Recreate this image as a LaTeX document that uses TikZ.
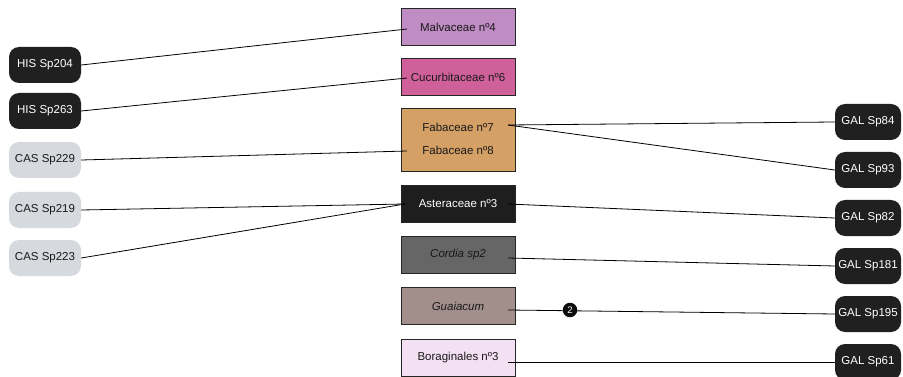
\documentclass[tikz,border=0pt]{standalone}
\usepackage{fontspec}
\setmainfont{Liberation Sans}
\definecolor{malva}{HTML}{C08CC4}
\definecolor{cucur}{HTML}{D0609A}
\definecolor{faba}{HTML}{D4A066}
\definecolor{aster}{HTML}{1E1E1E}
\definecolor{cordia}{HTML}{666666}
\definecolor{guaia}{HTML}{A28E8A}
\definecolor{borag}{HTML}{F3E0F3}
\definecolor{darkpill}{HTML}{202020}
\definecolor{lightpill}{HTML}{D6D9DD}
\begin{document}
\begin{tikzpicture}[x=1pt,y=-1pt,
  famsbox/.style={draw=black!85,line width=0.9pt,minimum width=114pt,minimum height=37pt,
    inner sep=0pt,font=\fontsize{11.5}{13}\selectfont,text=black!90},
  darkpill/.style={fill=darkpill,rounded corners=10pt,minimum height=36pt,inner sep=0pt,
    text=white,font=\fontsize{11.5}{13}\selectfont},
  lightpill/.style={fill=lightpill,rounded corners=10pt,minimum height=36pt,inner sep=0pt,
    text=black!90,font=\fontsize{11.5}{13}\selectfont},
  link/.style={draw=black,line width=0.8pt}]
\useasboundingbox (0,0) rectangle (903,377);

% central taxon boxes
\node[famsbox,fill=malva] (malv) at (458,27) {Malvaceae nº4};
\node[famsbox,fill=cucur] (cucu) at (458,77) {Cucurbitaceae nº6};
\node[famsbox,fill=faba,minimum height=63pt] (faba) at (458,140) {};
\node[font=\fontsize{11.5}{13}\selectfont,text=black!90] (fab7) at (458,127) {Fabaceae nº7};
\node[font=\fontsize{11.5}{13}\selectfont,text=black!90] (fab8) at (458,150) {Fabaceae nº8};
\node[famsbox,fill=aster,text=white] (aste) at (458,204) {Asteraceae nº3};
\node[famsbox,fill=cordia] (cord) at (458,255) {\itshape Cordia sp2};
\node[famsbox,fill=guaia] (guai) at (458,306) {\itshape Guaiacum};
\node[famsbox,fill=borag] (bora) at (458,358) {Boraginales nº3};

% left samples
\node[darkpill,minimum width=72pt] (h204) at (45,65) {HIS Sp204};
\node[darkpill,minimum width=72pt] (h263) at (45,111) {HIS Sp263};
\node[lightpill,minimum width=72pt] (c229) at (45,160) {CAS Sp229};
\node[lightpill,minimum width=72pt] (c219) at (45,210) {CAS Sp219};
\node[lightpill,minimum width=72pt] (c223) at (45,258) {CAS Sp223};

% right samples
\node[darkpill,minimum width=66pt] (g84) at (868,122) {GAL Sp84};
\node[darkpill,minimum width=66pt] (g93) at (868,170) {GAL Sp93};
\node[darkpill,minimum width=66pt] (g82) at (868,218) {GAL Sp82};
\node[darkpill,minimum width=66pt] (g181) at (868,266) {GAL Sp181};
\node[darkpill,minimum width=66pt] (g195) at (868,314) {GAL Sp195};
\node[darkpill,minimum width=66pt] (g61) at (868,362) {GAL Sp61};

% connector end points inside the boxes
\coordinate (malvL) at (407,29);
\coordinate (cucuL) at (407,78);
\coordinate (fab8L) at (407,151);
\coordinate (asteL) at (405,204);
\coordinate (fab7R) at (508,125);
\coordinate (asteR) at (508,204);
\coordinate (cordR) at (508,258);
\coordinate (guaiR) at (508,310);
\coordinate (boraR) at (508,362);

% connectors
\draw[link] (h204.east) -- (malvL);
\draw[link] (h263.east) -- (cucuL);
\draw[link] (c229.east) -- (fab8L);
\draw[link] (c219.east) -- (asteL);
\draw[link] (c223.east) -- (asteL);
\draw[link] (fab7R) -- (g84.west);
\draw[link] (fab7R) -- (g93.west);
\draw[link] (asteR) -- (g82.west);
\draw[link] (cordR) -- (g181.west);
\draw[link] (guaiR) -- (g195.west);
\draw[link] (boraR) -- (g61.west);

% multiplicity badge
\node[circle,fill=black!95,minimum size=14.5pt,inner sep=0pt,text=white,
  font=\fontsize{9.5}{10}\selectfont] (badge) at (570,310) {2};
\end{tikzpicture}
\end{document}
